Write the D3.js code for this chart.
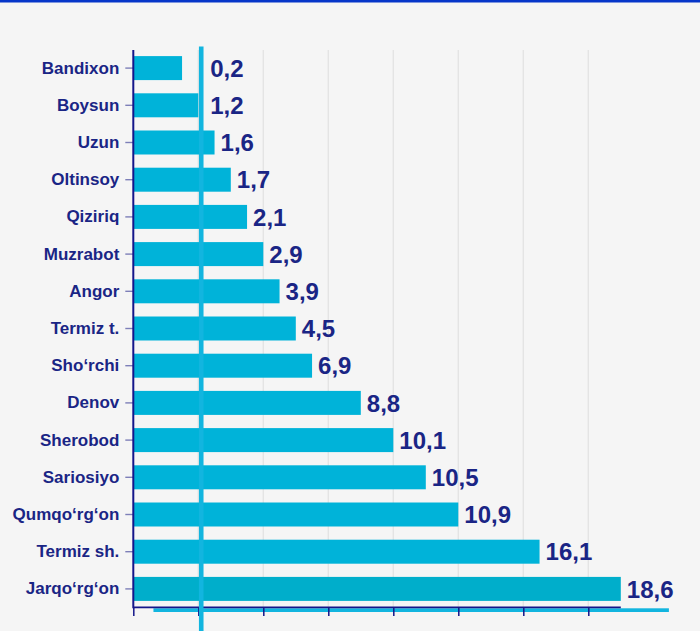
<!DOCTYPE html>
<html>
<head>
<meta charset="utf-8">
<script src="https://cdn.jsdelivr.net/npm/d3@7"></script>
<style>
  html, body { margin: 0; padding: 0; background: #f5f5f5; }
  svg { display: block; }
</style>
</head>
<body>
<svg id="chart" width="700" height="631"></svg>
<script>
// Districts (top to bottom)
const categories = ["Bandixon", "Boysun", "Uzun", "Oltinsoy", "Qiziriq", "Muzrabot", "Angor",
  "Termiz t.", "Sho\u2018rchi", "Denov", "Sherobod", "Sariosiyo", "Qumqo\u2018rg\u2018on", "Termiz sh.", "Jarqo\u2018rg\u2018on"];
// Printed values
const values = [0.2, 1.2, 1.6, 1.7, 2.1, 2.9, 3.9, 4.5, 6.9, 8.8, 10.1, 10.5, 10.9, 16.1, 18.6];
// Bar lengths as drawn in the picture, in axis tick units (bars are not to scale)
const barLengths = [0.75, 1, 1.25, 1.5, 1.75, 2, 2.25, 2.5, 2.75, 3.5, 4, 4.5, 5, 6.25, 7.5];
// Axis ticks (unlabelled)
const xTicks = [0, 1, 2, 3, 4, 5, 6, 7];
const gridTicks = [1, 2, 3, 4, 5, 6, 7];
const refLineValue = 1.045;

const svg = d3.select("#chart");
const W = 700, H = 631;

const x = d3.scaleLinear().domain([0, 8]).range([133.3, 653.3]);
const y = d3.scaleBand().domain(categories).range([49.5, 607.5])
  .paddingInner(0.355).paddingOuter(0.1775);

const navy = "#1a2585";
const axisNavy = "#14168a";
const barColor = "#00b3d9";
const lastBarColor = "#00aecb";
const cyan = "#12b5df";

// background
svg.append("rect").attr("width", W).attr("height", H).attr("fill", "#f5f5f5");
// top rule
svg.append("rect").attr("x", 0).attr("y", 0).attr("width", W).attr("height", 2.5).attr("fill", "#0636c9");

// gridlines
svg.append("g").selectAll("line").data(gridTicks).join("line")
  .attr("x1", d => x(d)).attr("x2", d => x(d))
  .attr("y1", 50).attr("y2", 607)
  .attr("stroke", "#e3e3e3").attr("stroke-width", 1.3);

// bars
svg.append("g").selectAll("rect").data(categories).join("rect")
  .attr("x", x(0))
  .attr("y", d => y(d))
  .attr("width", (d, i) => x(barLengths[i]) - x(0))
  .attr("height", y.bandwidth())
  .attr("fill", (d, i) => i === categories.length - 1 ? lastBarColor : barColor);

// cyan decorative line under x axis
svg.append("rect")
  .attr("x", x(0.31)).attr("y", 608.3)
  .attr("width", x(8.24) - x(0.31)).attr("height", 3.7)
  .attr("fill", cyan);

// y axis
const yAxis = d3.axisLeft(y).tickSize(8).tickPadding(6);
const gy = svg.append("g").attr("transform", `translate(${x(0)},0)`).call(yAxis);
gy.select(".domain").remove();
gy.selectAll(".tick line").attr("stroke", "#7d7fb8").attr("stroke-width", 1.4);
gy.selectAll(".tick text")
  .attr("fill", navy)
  .style("font-family", "'Liberation Sans', Arial, sans-serif")
  .style("font-weight", "bold")
  .style("font-size", "17px");
svg.append("line")
  .attr("x1", x(0)).attr("x2", x(0)).attr("y1", 50).attr("y2", 608.3)
  .attr("stroke", axisNavy).attr("stroke-width", 2);

// x axis
const xAxis = d3.axisBottom(x).tickValues(xTicks).tickSize(8).tickFormat("");
const gx = svg.append("g").attr("transform", "translate(0,608)").call(xAxis);
gx.select(".domain").remove();
gx.selectAll(".tick line").attr("stroke", axisNavy).attr("stroke-width", 1.5);
svg.append("line")
  .attr("x1", x(0)).attr("x2", x(barLengths[barLengths.length - 1]))
  .attr("y1", 607.3).attr("y2", 607.3)
  .attr("stroke", axisNavy).attr("stroke-width", 1.8);

// vertical cyan reference line
svg.append("rect")
  .attr("x", x(refLineValue) - 2.3).attr("y", 46.5)
  .attr("width", 4.6).attr("height", H - 46.5)
  .attr("fill", cyan);

// value labels
const locale = d3.formatLocale({ decimal: ",", thousands: " ", grouping: [3], currency: ["", ""] });
const fmt = locale.format(".1f");
const minLabelX = x(refLineValue) + 9;
svg.append("g").selectAll("text").data(categories).join("text")
  .attr("x", (d, i) => Math.max(x(barLengths[i]) + 6, minLabelX))
  .attr("y", d => y(d) + y.bandwidth() / 2)
  .attr("dy", "0.36em")
  .attr("fill", navy)
  .style("font-family", "'Liberation Sans', Arial, sans-serif")
  .style("font-weight", "bold")
  .style("font-size", "24px")
  .text((d, i) => fmt(values[i]));
</script>
</body>
</html>
